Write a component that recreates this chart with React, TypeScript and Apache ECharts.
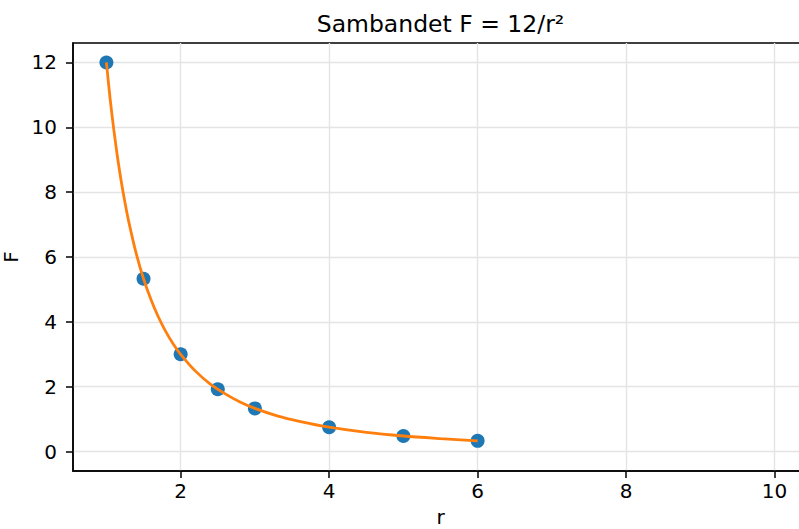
import React, { useEffect, useRef } from "react";
import * as echarts from "echarts";

// Measured points (r, F)
const pointR = [1, 1.5, 2, 2.5, 3, 4, 5, 6];
const pointF = [12, 5.33, 3.0, 1.92, 1.33, 0.75, 0.48, 0.33];

// Fitted curve F = 12/r², sampled values
const curveR = [1.0, 1.05, 1.1, 1.15, 1.2, 1.25, 1.3, 1.4, 1.5, 1.6, 1.7, 1.8, 1.9, 2.0, 2.2, 2.4, 2.6, 2.8, 3.0, 3.3, 3.6, 4.0, 4.5, 5.0, 5.5, 6.0];
const curveF = [12.0, 10.88, 9.92, 9.07, 8.33, 7.68, 7.1, 6.12, 5.33, 4.69, 4.15, 3.7, 3.32, 3.0, 2.48, 2.08, 1.78, 1.53, 1.33, 1.1, 0.93, 0.75, 0.59, 0.48, 0.4, 0.33];

const xTicks = [2, 4, 6, 8, 10];
const yTicks = [0, 2, 4, 6, 8, 10, 12];

const FONT = "DejaVu Sans";

export default function App() {
  const ref = useRef<HTMLDivElement>(null);

  useEffect(() => {
    if (!ref.current) return;
    const chart = echarts.init(ref.current, null, { renderer: "svg" });

    const gridLeft = 73;
    const gridTop = 43;
    const gridBottom = 58;
    const gridRight = -9;
    const plotCenterX = gridLeft + (799 - gridLeft - gridRight) / 2;

    chart.setOption({
      animation: false,
      backgroundColor: "#ffffff",
      textStyle: { fontFamily: FONT },
      graphic: [
        {
          type: "text",
          x: plotCenterX,
          y: 24,
          style: {
            text: "Sambandet F = 12/r²",
            fill: "#000",
            font: `23.5px "${FONT}"`,
            textAlign: "center",
            textVerticalAlign: "middle",
          },
        },
      ],
      grid: {
        left: gridLeft,
        top: gridTop,
        right: gridRight,
        bottom: gridBottom,
        containLabel: false,
        outerBoundsMode: "none",
        show: true,
        borderColor: "#000",
        borderWidth: 1.5,
        backgroundColor: "transparent",
      },
      xAxis: {
        type: "value",
        min: 0.55,
        max: 10.45,
        name: "r",
        nameLocation: "middle",
        nameGap: 36,
        nameTextStyle: { fontSize: 20, color: "#000", fontFamily: FONT },
        axisLine: { show: true, onZero: false, lineStyle: { color: "#000", width: 1.5 } },
        axisTick: { show: true, inside: false, length: 7, lineStyle: { color: "#000", width: 1.5 }, customValues: xTicks },
        axisLabel: { fontSize: 20, color: "#000", margin: 10, fontFamily: FONT, customValues: xTicks, formatter: (v: number) => String(v) },
        splitLine: { show: true, lineStyle: { color: "#e4e4e4", width: 1.4 } },
      },
      yAxis: {
        type: "value",
        min: -0.6,
        max: 12.6,
        name: "F",
        nameLocation: "middle",
        nameGap: 50,
        nameTextStyle: { fontSize: 20, color: "#000", fontFamily: FONT },
        axisLine: { show: true, onZero: false, lineStyle: { color: "#000", width: 1.5 } },
        axisTick: { show: true, inside: false, length: 7, lineStyle: { color: "#000", width: 1.5 }, customValues: yTicks },
        axisLabel: { fontSize: 20, color: "#000", margin: 16, fontFamily: FONT, customValues: yTicks, formatter: (v: number) => String(v) },
        splitLine: { show: true, lineStyle: { color: "#e4e4e4", width: 1.4 } },
      },
      series: [
        {
          type: "scatter",
          data: pointR.map((r, i) => [r, pointF[i]]),
          symbolSize: 14,
          itemStyle: { color: "#1f77b4", opacity: 1 },
          z: 2,
        },
        {
          type: "line",
          data: curveR.map((r, i) => [r, curveF[i]]),
          showSymbol: false,
          symbol: "none",
          smooth: 0.3,
          lineStyle: { color: "#ff7f0e", width: 2.8 },
          z: 3,
        },
      ],
    });

    return () => chart.dispose();
  }, []);

  return (
    <div
      ref={ref}
      style={{ position: "fixed", left: 0, top: 0, width: 799, height: 529, background: "#fff" }}
    />
  );
}
